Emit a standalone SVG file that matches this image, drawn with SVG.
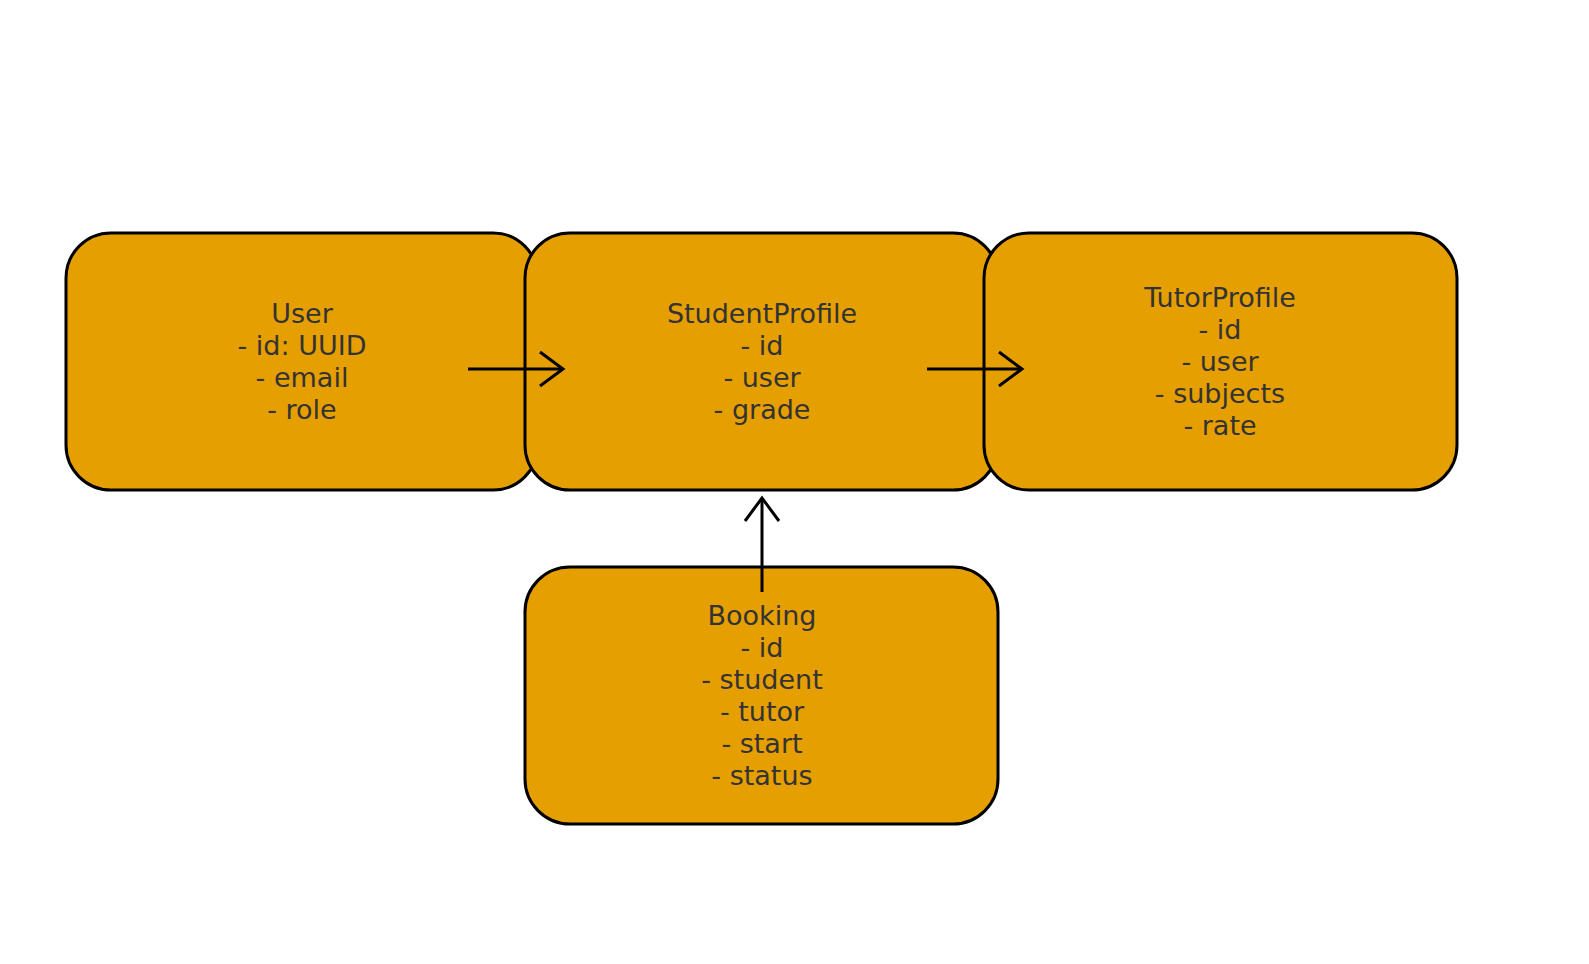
<svg xmlns="http://www.w3.org/2000/svg" width="1589" height="964" viewBox="0 0 1589 964">
  <style>
    .box { fill: #E69F00; stroke: #000000; stroke-width: 3; }
    .label { font-family: "DejaVu Sans", "Liberation Sans", sans-serif; font-size: 27px; fill: #333333; text-anchor: middle; }
    .edge { fill: none; stroke: #000000; stroke-width: 3; }
  </style>
  <defs>
    <marker id="open" markerUnits="userSpaceOnUse" markerWidth="40" markerHeight="40" refX="23" refY="17" orient="auto" overflow="visible">
      <path d="M0,0 L23,17 L0,34" fill="none" stroke="#000000" stroke-width="3" stroke-linecap="butt" stroke-linejoin="miter"/>
    </marker>
  </defs>
  <rect width="1589" height="964" fill="#ffffff"/>
  <g id="node-user">
    <rect class="box" x="66" y="233" width="472" height="257" rx="45" ry="45"/>
    <text class="label" x="302" y="323">User<tspan x="302" dy="32">- id: UUID</tspan><tspan x="302" dy="32">- email</tspan><tspan x="302" dy="32">- role</tspan></text>
  </g>
  <g id="node-studentprofile">
    <rect class="box" x="525" y="233" width="473" height="257" rx="45" ry="45"/>
    <text class="label" x="762" y="323">StudentProfile<tspan x="762" dy="32">- id</tspan><tspan x="762" dy="32">- user</tspan><tspan x="762" dy="32">- grade</tspan></text>
  </g>
  <g id="node-tutorprofile">
    <rect class="box" x="984" y="233" width="473" height="257" rx="45" ry="45"/>
    <text class="label" x="1220" y="307">TutorProfile<tspan x="1220" dy="32">- id</tspan><tspan x="1220" dy="32">- user</tspan><tspan x="1220" dy="32">- subjects</tspan><tspan x="1220" dy="32">- rate</tspan></text>
  </g>
  <g id="node-booking">
    <rect class="box" x="525" y="567" width="473" height="257" rx="45" ry="45"/>
    <text class="label" x="762" y="625">Booking<tspan x="762" dy="32">- id</tspan><tspan x="762" dy="32">- student</tspan><tspan x="762" dy="32">- tutor</tspan><tspan x="762" dy="32">- start</tspan><tspan x="762" dy="32">- status</tspan></text>
  </g>
  <g id="connectors">
    <line class="edge" x1="468" y1="369" x2="563" y2="369" marker-end="url(#open)"/>
    <line class="edge" x1="927" y1="369" x2="1022" y2="369" marker-end="url(#open)"/>
    <line class="edge" x1="762" y1="592" x2="762" y2="498" marker-end="url(#open)"/>
  </g>
</svg>
